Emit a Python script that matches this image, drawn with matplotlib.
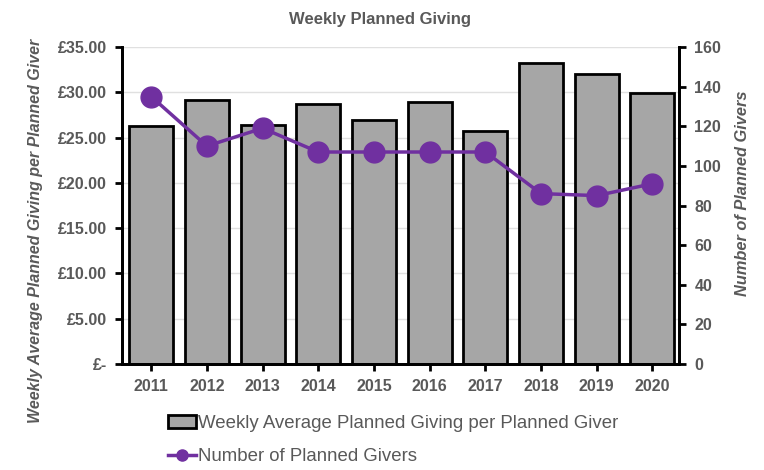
import matplotlib.pyplot as plt
from matplotlib.ticker import FuncFormatter
from matplotlib.lines import Line2D
from matplotlib.patches import Patch

years = ["2011", "2012", "2013", "2014", "2015", "2016", "2017", "2018", "2019", "2020"]
avgGiving = [26.3, 29.2, 26.4, 28.7, 26.9, 28.9, 25.7, 33.2, 32.0, 29.9]
numGivers = [135, 110, 119, 107, 107, 107, 107, 86, 85, 91]

textColor = "#595959"
purple = "#7030A0"
plt.rcParams["font.family"] = ["Liberation Sans", "DejaVu Sans"]

fig = plt.figure(figsize=(7.64, 4.70), dpi=100)
ax = fig.add_axes([0.160, 0.2255, 0.729, 0.6745])
ax2 = ax.twinx()

x = list(range(len(years)))
ax.bar(x, avgGiving, width=0.79, color="#A6A6A6", edgecolor="black", linewidth=2, zorder=2)
ax2.plot(x, numGivers, color=purple, linewidth=2.5, marker="o", markersize=15, zorder=3)

ax.set_xlim(-0.52, 9.48)
ax.set_ylim(0, 35)
ax.set_yticks(range(0, 36, 5))
ax.yaxis.set_major_formatter(FuncFormatter(lambda v, p: "£-" if v == 0 else "£%.2f" % v))
ax2.set_ylim(0, 160)
ax2.set_yticks(range(0, 161, 20))
ax.set_xticks(x)
ax.set_xticklabels(years)
ax.grid(axis="y", color="#E0E0E0", linewidth=1, zorder=0)
ax.set_axisbelow(True)

for a in (ax, ax2):
    a.spines["top"].set_visible(False)
    for s in ("left", "right", "bottom"):
        a.spines[s].set_linewidth(2)
        a.spines[s].set_color("black")
    a.tick_params(colors=textColor, labelsize=11.5, width=2, length=5, pad=6, direction="out")
    for lab in a.get_yticklabels() + a.get_xticklabels():
        lab.set_fontweight("bold")
    a.tick_params(axis="both", color="black")

ax.set_ylabel("Weekly Average Planned Giving per Planned Giver", color=textColor,
              fontsize=11.5, fontstyle="italic", fontweight="bold")
ax.yaxis.set_label_coords(-0.142, 0.42)
ax2.set_ylabel("Number of Planned Givers", color=textColor,
               fontsize=11.8, fontstyle="italic", fontweight="bold", rotation=90)
ax2.yaxis.set_label_coords(1.100, 0.54)
fig.suptitle("Weekly Planned Giving", x=0.497, y=0.975, color=textColor,
             fontsize=12, fontweight="bold")

handles = [Patch(facecolor="#A6A6A6", edgecolor="black", linewidth=2),
           Line2D([], [], color=purple, linewidth=2.5, marker="o", markersize=8)]
labels = ["Weekly Average Planned Giving per Planned Giver", "Number of Planned Givers"]
fig.legend(handles, labels, loc="upper left", bbox_to_anchor=(0.198, 0.152), frameon=False,
           fontsize=13.4, handlelength=1.5, handletextpad=0.1, labelspacing=0.85,
           labelcolor=textColor)

fig.savefig("out.png", dpi=100)
